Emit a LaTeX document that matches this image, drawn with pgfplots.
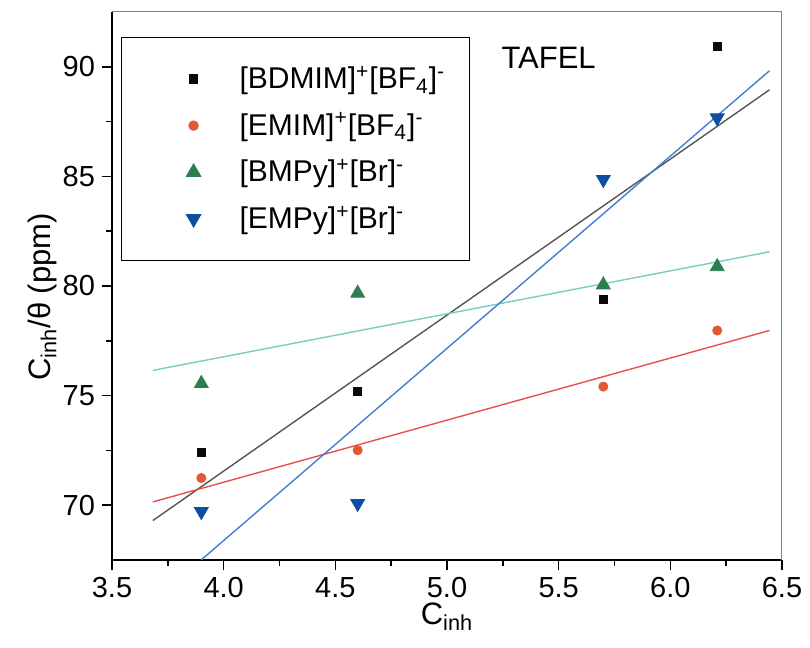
\documentclass[border=0pt]{standalone}
\usepackage{pgfplots}
\pgfplotsset{compat=1.18}
\usepackage{fontspec}
\setmainfont{Liberation Sans}
\definecolor{cblack}{RGB}{10,10,10}
\definecolor{cred}{RGB}{226,88,52}
\definecolor{cgreen}{RGB}{46,125,80}
\definecolor{cblue}{RGB}{14,78,160}
\definecolor{lblack}{RGB}{85,85,85}
\definecolor{lred}{RGB}{232,80,80}
\definecolor{lgreen}{RGB}{120,205,195}
\definecolor{lblue}{RGB}{70,125,210}
\begin{document}
\begin{tikzpicture}
\begin{axis}[
  scale only axis,
  width=335pt, height=274pt,
  xmin=3.5, xmax=6.5, ymin=67.5, ymax=92.5,
  axis x line*=bottom, axis y line*=left,
  axis line style={line width=1pt, black, -},
  xtick={3.5,4.0,...,6.5},
  minor xtick={3.75,4.25,...,6.25},
  ytick={70,75,...,90},
  minor ytick={72.5,77.5,82.5,87.5},
  xticklabels={3.5,4.0,4.5,5.0,5.5,6.0,6.5},
  tick align=outside,
  major tick length=5pt, minor tick length=3pt,
  tick style={line width=0.8pt, black},
  /pgf/number format/assume math mode=true,
  ticklabel style={font=\fontsize{14.5}{17}\selectfont},
  xlabel={C\textsubscript{inh}},
  ylabel={C\textsubscript{inh}/θ (ppm)},
  label style={font=\fontsize{15.5}{18}\selectfont},
  xlabel style={yshift=4pt},
  ylabel style={at={(ticklabel cs:0.48)}, yshift=-4pt},
  legend style={at={(rel axis cs:0.0134,0.955)}, anchor=north west,
    draw=black, line width=0.6pt, inner xsep=10pt, inner ysep=12.5pt,
    row sep=6.5pt,
    font=\fontsize{15}{18}\selectfont},
  legend cell align=left,
  legend image code/.code={\path[draw=none,fill=none] (0pt,0pt) rectangle (47pt,0pt);
    \draw[#1] plot coordinates {(26pt,0pt)};},
  clip=true,
]
\addplot[only marks, mark=square*, mark size=2pt, color=cblack] coordinates {
 (3.9,72.41) (4.6,75.17) (5.7,79.41) (6.21,90.92)};
\addlegendentry{[BDMIM]\textsuperscript{+}[BF\textsubscript{4}]\textsuperscript{-}}
\addplot[only marks, mark=*, mark size=2.3pt, color=cred] coordinates {
 (3.9,71.24) (4.6,72.51) (5.7,75.41) (6.21,77.97)};
\addlegendentry{[EMIM]\textsuperscript{+}[BF\textsubscript{4}]\textsuperscript{-}}
\addplot[only marks, mark=triangle*, mark size=4pt, color=cgreen] coordinates {
 (3.9,75.55) (4.6,79.67) (5.7,80.05) (6.21,80.88)};
\addlegendentry{[BMPy]\textsuperscript{+}[Br]\textsuperscript{-}}
\addplot[only marks, mark=triangle*, mark size=4pt, mark options={rotate=180}, color=cblue] coordinates {
 (3.9,69.71) (4.6,70.08) (5.7,84.86) (6.21,87.67)};
\addlegendentry{[EMPy]\textsuperscript{+}[Br]\textsuperscript{-}}
\addplot[lblack, line width=0.7pt, forget plot] coordinates {(3.683,69.3) (6.444,88.95)};
\addplot[lred, line width=0.7pt, forget plot] coordinates {(3.683,70.15) (6.444,77.97)};
\addplot[lgreen, line width=0.7pt, forget plot] coordinates {(3.683,76.15) (6.444,81.56)};
\addplot[lblue, line width=0.7pt, forget plot] coordinates {(3.899,67.5) (6.444,89.82)};
\node[font=\fontsize{15.5}{18}\selectfont] at (axis cs:5.455,90.4) {TAFEL};
\draw[gray, line width=0.5pt] (rel axis cs:0,1) -- (rel axis cs:1,1) -- (rel axis cs:1,0);
\end{axis}
\pgfresetboundingbox
\path[use as bounding box] (-56pt,-44pt) rectangle (349pt,280pt);
\end{tikzpicture}
\end{document}
